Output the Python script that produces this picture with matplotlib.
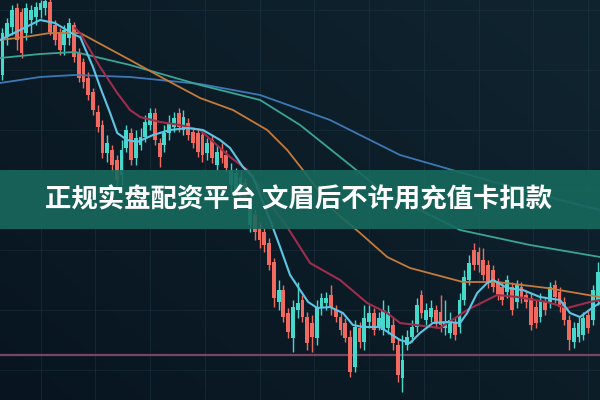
import numpy as np
import matplotlib
matplotlib.use("Agg")
import matplotlib.pyplot as plt

# candle data (price units)
opens = [325, 363, 373, 392, 388, 367, 380, 383, 390, 392,
         398, 375, 367, 355, 362, 375, 347, 338, 322, 308,
         288, 275, 247, 250, 240, 225, 252, 267, 242, 255,
         263, 275, 287, 257, 255, 267, 273, 287, 270, 277,
         268, 267, 265, 247, 260, 235, 252, 245, 215, 210,
         200, 217, 175, 185, 172, 168, 157, 138, 98, 110,
         87, 62, 90, 100, 83, 77, 62, 93, 97, 105,
         90, 83, 77, 63, 33, 72, 58, 78, 87, 74,
         70, 72, 75, 55, 22, 55, 63, 73, 105, 80,
         83, 90, 88, 72, 67, 77, 73, 100, 120, 150,
         148, 140, 135, 130, 117, 113, 108, 113, 98, 113,
         105, 102, 93, 83, 98, 98, 115, 108, 98, 80,
         58, 63, 65, 85, 80, 100]
closes = [367, 377, 390, 360, 347, 392, 390, 393, 397, 399,
          368, 360, 350, 370, 377, 343, 322, 318, 305, 290,
          273, 247, 257, 235, 220, 250, 270, 240, 262, 263,
          278, 287, 260, 243, 267, 277, 282, 273, 283, 265,
          257, 248, 245, 257, 242, 248, 242, 232, 230, 227,
          223, 197, 200, 168, 160, 155, 135, 102, 110, 83,
          68, 93, 97, 83, 57, 63, 93, 102, 102, 92,
          83, 70, 62, 28, 73, 58, 82, 87, 70, 82,
          90, 88, 57, 25, 40, 63, 73, 95, 87, 90,
          92, 78, 75, 78, 80, 65, 100, 123, 137, 135,
          135, 125, 118, 113, 105, 100, 120, 90, 115, 102,
          98, 75, 77, 100, 90, 113, 103, 93, 80, 60,
          72, 77, 82, 72, 110, 128]
highs = [372, 382, 395, 397, 392, 397, 395, 398, 400, 401,
         401, 380, 372, 375, 382, 378, 352, 342, 328, 312,
         295, 280, 265, 255, 245, 260, 275, 272, 270, 272,
         285, 292, 292, 262, 275, 285, 288, 292, 290, 282,
         273, 272, 270, 262, 265, 255, 257, 250, 237, 232,
         230, 222, 207, 190, 178, 172, 162, 142, 120, 115,
         92, 100, 118, 105, 88, 85, 100, 107, 108, 115,
         95, 88, 82, 70, 80, 78, 95, 95, 92, 88,
         100, 95, 82, 62, 65, 70, 80, 102, 110, 97,
         100, 95, 105, 100, 88, 82, 107, 130, 145, 157,
         153, 152, 140, 135, 122, 118, 125, 118, 120, 118,
         110, 107, 100, 107, 103, 118, 120, 113, 103, 85,
         78, 83, 88, 90, 115, 138]
lows = [320, 355, 365, 350, 342, 360, 367, 375, 382, 385,
        365, 355, 345, 345, 355, 338, 318, 312, 300, 285,
        268, 242, 238, 228, 212, 215, 248, 235, 235, 250,
        258, 270, 255, 233, 248, 260, 268, 268, 265, 260,
        252, 243, 238, 240, 237, 230, 237, 228, 208, 205,
        195, 192, 168, 160, 152, 148, 130, 93, 90, 78,
        62, 48, 82, 78, 50, 48, 55, 85, 90, 85,
        78, 65, 58, 23, 28, 52, 50, 72, 65, 70,
        65, 66, 50, 18, 8, 50, 58, 68, 82, 75,
        78, 72, 68, 65, 62, 60, 67, 95, 115, 130,
        128, 120, 112, 108, 100, 95, 102, 85, 92, 97,
        92, 70, 72, 78, 85, 92, 97, 88, 75, 50,
        52, 58, 60, 67, 75, 95]

# moving average lines (candle index, price)
ma_blue_x = [-0.5, 7.9, 15.2, 26.8, 41.5, 54.1, 68.8, 83.5, 100.3, 117.1, 125.5]
ma_blue_y = [317, 323, 325, 323, 316, 305, 280, 245, 222, 200, 190]
ma_teal_x = [-0.5, 7.9, 15.2, 26.8, 41.5, 54.1, 62.5, 73, 80.8, 89.8, 96.1, 110.8, 125.5]
ma_teal_y = [342, 346, 348, 335, 315, 300, 275, 235, 205, 185, 170, 155, 143]
ma_orange_x = [-0.5, 4.7, 10, 16.3, 26.8, 35.2, 41.5, 48.4, 55.6, 59.8, 63.1, 69.4,
               75.1, 80.8, 85.6, 96.7, 103.9, 114.4, 125.5]
ma_orange_y = [360, 363, 367, 367, 340, 318, 302, 290, 270, 250, 230, 190,
               167, 143, 132, 118, 118, 112, 103]
ma_red_x = [15.2, 16.3, 20.5, 24.1, 26.8, 28.9, 33.1, 37.3, 41.5, 47.8, 52, 55.6, 59.8,
            64.6, 70.9, 76.6, 80.8, 83.5, 91.9, 97.6, 103.9, 108.1, 114.4, 118.6, 123.4, 125.5]
ma_red_y = [372, 367, 333, 307, 290, 283, 278, 275, 270, 243, 228, 200, 173,
            137, 120, 97, 87, 77, 72, 90, 105, 103, 98, 92, 98, 100]
ma_cyan_x = [-0.5, 3.7, 7.9, 11, 15.2, 16.3, 19, 20.5, 22.6, 24.1, 26.2, 28.3, 31.6, 35.2,
             38.8, 42.1, 45.7, 47.8, 50.5, 52.6, 56.2, 58.3, 60.4, 62.5, 64.2, 66.1, 68.8,
             71.5, 73.6, 75.7, 79.3, 83.5, 85.6, 87.7, 90.4, 93.4, 96.1, 97.6, 99.7, 101.8,
             103.1, 106, 109.3, 112.9, 117.1, 119.2, 121.3, 124.1, 125.5]
ma_cyan_y = [360, 370, 380, 377, 365, 363, 333, 313, 287, 267, 260, 258, 265, 270,
             272, 270, 260, 252, 233, 223, 180, 153, 125, 110, 98, 92, 93,
             87, 75, 73, 73, 60, 57, 67, 77, 78, 77, 87, 107, 117,
             120, 112, 110, 103, 100, 87, 83, 93, 97]
support_level = 45

title = "正规实盘配资平台 文眉后不许用充值卡扣款"

fig = plt.figure(figsize=(6, 4), dpi=100)
ax = fig.add_axes([0, 0, 1, 1])
ax.set_xlim(-0.525, 125.5)
ax.set_ylim(0, 400)
ax.axis("off")

# background gradient
gx, gy = np.meshgrid(np.linspace(0, 1, 200), np.linspace(0, 1, 200))
t = np.clip(0.55 * gx + 0.45 * gy, 0, 1)
c0 = np.array([8, 21, 32]) / 255
c1 = np.array([16, 36, 47]) / 255
bg = c0 + (c1 - c0) * t[..., None]
ax.imshow(bg, extent=[-0.525, 125.5, 0, 400], origin="lower", aspect="auto", zorder=0)

# faint grid
for gxv in np.arange(8, 126, 11.5):
    ax.axvline(gxv, color="#2a4a5a", lw=0.6, alpha=0.35, zorder=1)
for gyv in np.arange(30, 400, 60):
    ax.axhline(gyv, color="#2a4a5a", lw=0.6, alpha=0.3, zorder=1)

ax.axhline(support_level, color="#874a6c", lw=1.6, alpha=0.9, zorder=2)

o = np.array(opens)
c = np.array(closes)
h = np.array(highs)
l = np.array(lows)
idx = np.arange(len(o))
up = c >= o
cols = np.where(up, "#45d8cb", "#f06a60")

ax.vlines(idx, l, h, colors=cols, lw=1.0, zorder=3)
ax.bar(idx, np.abs(c - o), bottom=np.minimum(o, c), width=0.8, color=cols, zorder=3)

ax.plot(ma_blue_x, ma_blue_y, color="#3d78b5", lw=1.3, zorder=4)
ax.plot(ma_teal_x, ma_teal_y, color="#3aa596", lw=1.3, zorder=4)
ax.plot(ma_orange_x, ma_orange_y, color="#c57a3c", lw=1.3, zorder=4)
ax.plot(ma_red_x, ma_red_y, color="#a02c4c", lw=1.5, zorder=4)
ax.plot(ma_cyan_x, ma_cyan_y, color="#5cc6e4", lw=1.5, zorder=4)

# banner
ax.axhspan(171, 230, color="#18695d", alpha=0.9, lw=0, zorder=5)
fig.text(0.498, 0.5, title, ha="center", va="center", fontsize=19,
         fontweight="bold", color="white",
         family=["Noto Sans CJK SC", "DejaVu Sans"], zorder=6)

fig.savefig("out.png", dpi=100)
